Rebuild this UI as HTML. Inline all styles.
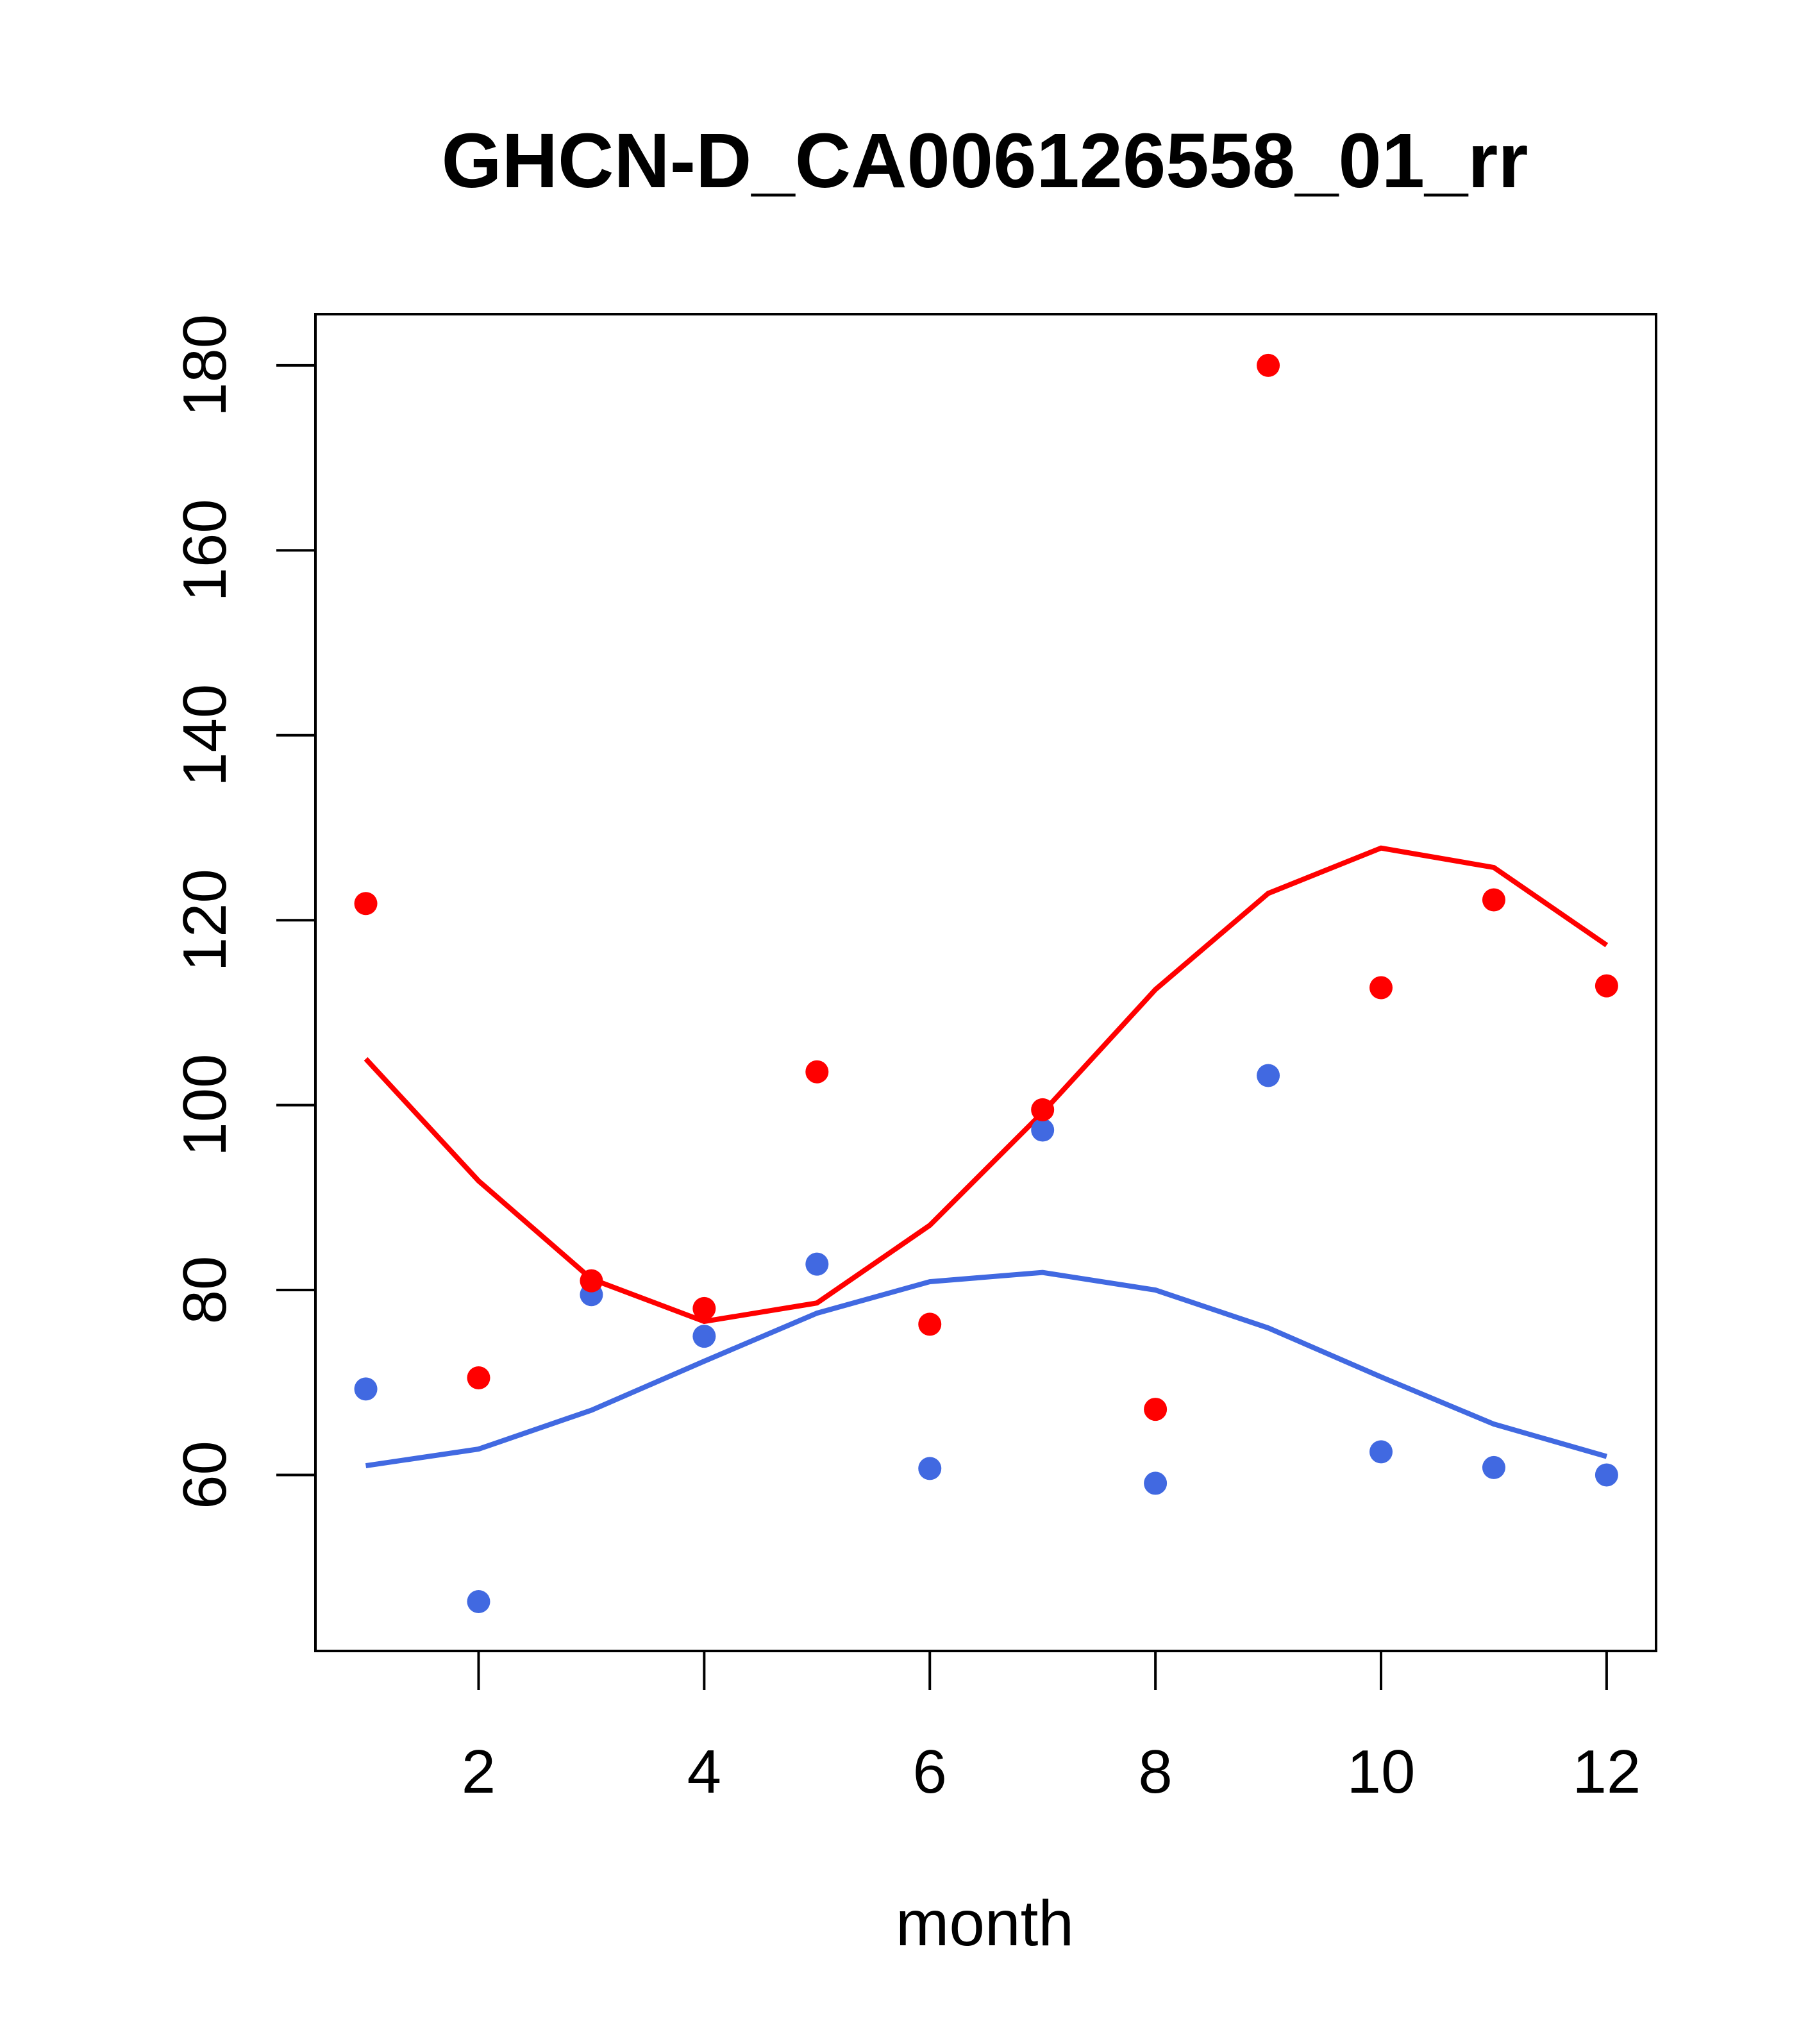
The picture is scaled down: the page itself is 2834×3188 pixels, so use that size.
<!DOCTYPE html>
<html><head><meta charset="utf-8"><style>
html,body{margin:0;padding:0;background:#fff;}
svg{display:block;font-family:"Liberation Sans",Arial,sans-serif;}
</style></head><body>
<svg id="chart" width="2834" height="3188" viewBox="0 0 2834 3188" xmlns="http://www.w3.org/2000/svg">
<rect width="2834" height="3188" fill="#fff"/>
<text x="1536" y="292" font-size="121" font-weight="bold" text-anchor="middle">GHCN-D_CA006126558_01_rr</text>
<rect x="492" y="490" width="2091" height="2085" fill="none" stroke="#000" stroke-width="4"/>
<g id="xaxis"></g>
<g id="yaxis"></g>
<text x="1536" y="3034" font-size="100" text-anchor="middle">month</text>
<g id="series"></g>
</svg>
<script>
const months=[1,2,3,4,5,6,7,8,9,10,11,12];
const redPoints=[121.8,70.5,81,78,103.6,76.3,99.5,67.1,180,112.7,122.2,112.9];
const redLine=[105,91.8,81.2,76.6,78.6,87,99.2,112.5,122.9,127.8,125.7,117.3];
const bluePoints=[69.3,46.3,79.5,75,82.8,60.7,97.3,59.1,103.2,62.5,60.8,60];
const blueLine=[61,62.8,67,72.3,77.5,80.9,81.9,80,75.9,70.6,65.5,62];
const xTicks=[2,4,6,8,10,12];
const yTicks=[60,80,100,120,140,160,180];
const NS="http://www.w3.org/2000/svg";
const S=2.034;
function X(m){return S*(280.5+86.5*(m-1));}
function Y(v){return S*(1131-(v-60)*141.8/20);}
function mk(t,a,p){const e=document.createElementNS(NS,t);for(const k in a)e.setAttribute(k,a[k]);p.appendChild(e);return e;}
const xa=document.getElementById('xaxis'),ya=document.getElementById('yaxis'),sr=document.getElementById('series');
const by=2575;
mk('line',{x1:X(2),x2:X(12),y1:by,y2:by,stroke:'#000','stroke-width':4},xa);
xTicks.forEach(t=>{
 const l=mk('line',{x1:X(t),x2:X(t),y1:by,y2:by+61,stroke:'#000','stroke-width':4},xa);
 
 
 const tx=mk('text',{x:X(t),y:2796,'font-size':96,'text-anchor':'middle'},xa);
 tx.textContent=t;
 
 
});
mk('line',{x1:492,x2:492,y1:Y(60),y2:Y(180),stroke:'#000','stroke-width':4},ya);
yTicks.forEach(t=>{
 const l=mk('line',{x1:431,x2:492,y1:Y(t),y2:Y(t),stroke:'#000','stroke-width':4},ya);
 
 
 const tx=mk('text',{x:0,y:0,'font-size':96,'text-anchor':'middle',transform:`translate(352,${Y(t)}) rotate(-90)`},ya);
 tx.textContent=t;
 
 
});
function line(vals,col,name){
 const p=mk('polyline',{points:vals.map((v,i)=>X(months[i])+','+Y(v)).join(' '),fill:'none',stroke:col,'stroke-width':8},sr);
 
 
}
function pts(vals,col,name){
 vals.forEach((v,i)=>{
  const c=mk('circle',{cx:X(months[i]),cy:Y(v),r:18,fill:col},sr);
  
  
 });
}
line(blueLine,'#4169E1','blue-line');
line(redLine,'#FF0000','red-line');
pts(bluePoints,'#4169E1','blue-point');
pts(redPoints,'#FF0000','red-point');
</script>
</body></html>
